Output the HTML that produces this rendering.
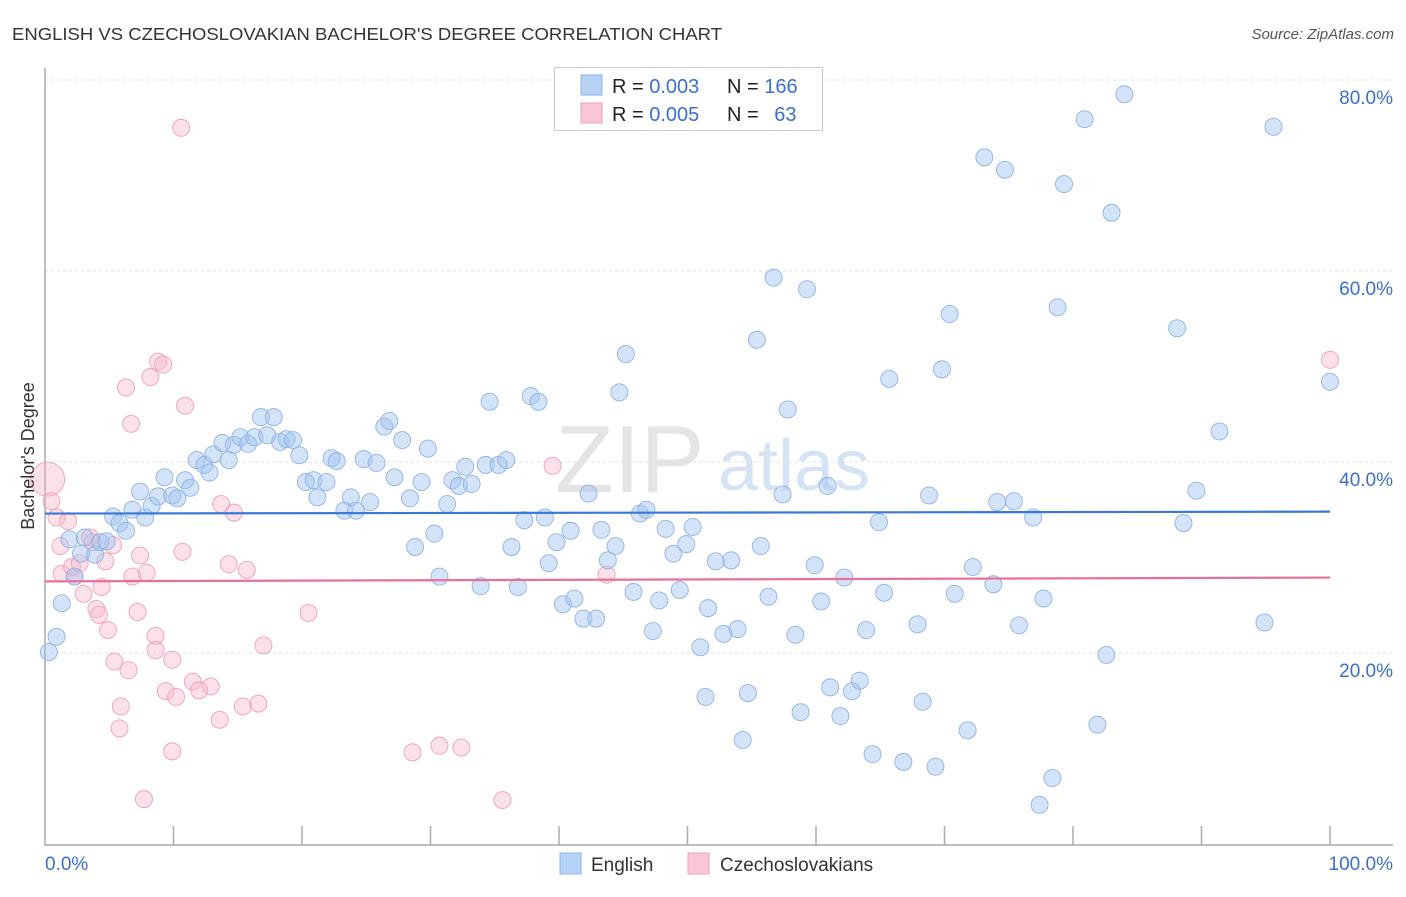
<!DOCTYPE html>
<html><head><meta charset="utf-8"><style>
body{margin:0;background:#fff;font-family:"Liberation Sans",sans-serif;}
svg text{font-family:"Liberation Sans",sans-serif;}
</style></head><body>
<svg id="chart" width="1406" height="892">
<text x="12" y="40" font-size="17.5" fill="#333" textLength="710" lengthAdjust="spacingAndGlyphs">ENGLISH VS CZECHOSLOVAKIAN BACHELOR'S DEGREE CORRELATION CHART</text>
<text x="1394" y="39" font-size="15" fill="#555" font-style="italic" text-anchor="end">Source: ZipAtlas.com</text>
<text x="555" y="492" font-size="96" fill="#e4e4e4" font-family="Liberation Serif">ZIP</text>
<text x="718" y="490" font-size="72" fill="#d6e3f5">atlas</text>
<g id="grid"></g>
<g id="axes"></g>
<g id="pts"></g>
<g id="trend"></g>
<text x="34" y="456" font-size="18" fill="#333" text-anchor="middle" transform="rotate(-90 34 456)">Bachelor's Degree</text>
<g>
<rect x="554.5" y="67.5" width="268" height="63" fill="#fff" stroke="#ccc"/>
<rect x="581" y="75" width="21" height="20" fill="#b7d2f5" stroke="#8fb3e6"/>
<text x="612" y="93" font-size="20" fill="#222">R = <tspan fill="#3a6fd0">0.003</tspan></text>
<text x="727" y="93" font-size="20" fill="#222">N = <tspan fill="#3a6fd0">166</tspan></text>
<rect x="581" y="103" width="21" height="20" fill="#f9c6d5" stroke="#f0a0b8"/>
<text x="612" y="121" font-size="20" fill="#222">R = <tspan fill="#3a6fd0">0.005</tspan></text>
<text x="727" y="121" font-size="20" fill="#222">N = <tspan fill="#3a6fd0" dx="10">63</tspan></text>
</g>
<g>
<rect x="560" y="853" width="21" height="21" fill="#b7d2f5" stroke="#8fb3e6"/>
<text x="591" y="871" font-size="19" fill="#333">English</text>
<rect x="688" y="853" width="21" height="21" fill="#f9c6d5" stroke="#f0a0b8"/>
<text x="720" y="871" font-size="19" fill="#333">Czechoslovakians</text>
</g>
</svg>
<script>
const yTicks=[20,40,60,80];
const yTickLabels=["20.0%","40.0%","60.0%","80.0%"];
const xTicks=[0,10,20,30,40,50,60,70,80,90,100];
const xEndLabels=["0.0%","100.0%"];
const englishX=[0.3,0.9,1.3,2.3,1.9,2.8,3.1,3.9,4.3,4.8,5.3,5.8,6.3,6.8,7.4,7.8,8.3,8.8,9.3,9.9,10.3,10.9,11.3,11.8,12.4,12.8,13.1,13.8,14.3,14.7,15.2,15.8,16.3,16.8,17.3,17.8,18.3,18.8,19.3,19.8,20.3,20.9,21.2,21.9,22.3,22.7,23.3,23.8,24.2,24.8,25.3,25.8,26.4,26.8,27.2,27.8,28.4,28.8,29.3,29.8,30.3,30.7,31.3,31.7,32.2,32.7,33.2,33.9,34.3,34.6,35.3,35.9,36.3,36.8,37.3,37.8,38.4,38.9,39.2,39.8,40.3,40.9,41.2,41.9,42.3,42.9,43.3,43.8,44.4,44.7,45.2,45.8,46.3,46.8,47.3,47.8,48.3,48.9,49.4,49.9,50.4,51.0,51.4,51.6,52.2,52.8,53.4,53.9,54.3,54.7,55.4,55.7,56.3,56.7,57.4,57.8,58.4,58.8,59.3,59.9,60.4,60.9,61.1,61.9,62.2,62.8,63.4,63.9,64.4,64.9,65.3,65.7,66.8,67.9,68.3,68.8,69.3,69.8,70.4,70.8,71.8,72.2,73.1,73.8,74.1,74.7,75.4,75.8,76.9,77.4,77.7,78.4,78.8,79.3,80.9,81.9,82.6,83.0,84.0,88.1,88.6,89.6,91.4,94.9,95.6,100];
const englishY=[20.1,21.7,25.2,28.0,31.9,30.4,32.1,30.3,31.6,31.7,34.3,33.6,32.8,35.0,36.9,34.2,35.4,36.4,38.4,36.5,36.2,38.1,37.3,40.2,39.7,38.9,40.8,42.0,40.2,41.8,42.6,41.9,42.6,44.7,42.8,44.7,42.1,42.4,42.3,40.7,37.9,38.1,36.3,37.9,40.4,40.1,34.9,36.3,34.9,40.3,35.8,39.9,43.7,44.3,38.4,42.3,36.2,31.1,37.9,41.4,32.5,28.0,35.6,38.1,37.5,39.5,37.7,27.0,39.7,46.3,39.7,40.2,31.1,26.9,33.9,46.9,46.3,34.2,29.4,31.6,25.1,32.8,25.7,23.6,36.7,23.6,32.9,29.7,31.2,47.3,51.3,26.4,34.6,35.0,22.3,25.5,33.0,30.4,26.6,31.4,33.2,20.6,15.4,24.7,29.6,22.0,29.7,22.5,10.9,15.8,52.8,31.2,25.9,59.3,36.6,45.5,21.9,13.8,58.1,29.2,25.4,37.5,16.4,13.4,27.9,16.0,17.1,22.4,9.4,33.7,26.3,48.7,8.6,23.0,14.9,36.5,8.1,49.7,55.5,26.2,11.9,29.0,71.9,27.2,35.8,70.6,35.9,22.9,34.2,4.1,25.7,6.9,56.2,69.1,75.9,12.5,19.8,66.1,78.5,54.0,33.6,37.0,43.2,23.2,75.1,48.4];
const czechX=[0.2,0.5,0.9,1.2,1.3,1.8,2.1,2.3,2.7,3.0,3.5,3.7,4.0,4.2,4.4,4.7,4.9,5.3,5.4,5.8,5.9,6.3,6.5,6.7,6.8,7.2,7.4,7.7,7.9,8.2,8.6,8.6,8.8,9.2,9.4,9.9,9.9,10.2,10.6,10.7,10.9,11.5,12.0,12.9,13.6,13.7,14.3,14.7,15.4,15.7,16.6,17.0,20.5,28.6,30.7,32.4,35.6,39.5,43.7,100];
const czechY=[38.2,35.9,34.2,31.2,28.3,33.8,29.0,28.0,29.4,26.2,32.1,31.6,24.6,24.0,26.9,29.6,22.4,31.3,19.1,12.1,14.4,47.8,18.2,44.0,28.0,24.3,30.2,4.7,28.4,48.9,21.8,20.3,50.5,50.2,16.0,9.7,19.3,15.4,75.0,30.6,45.9,17.0,16.1,16.5,13.0,35.6,29.3,34.7,14.4,28.7,14.7,20.8,24.2,9.6,10.3,10.1,4.6,39.6,28.2,50.7];
const englishTrend=[34.6,34.8];
const czechTrend=[27.5,27.9];

const NS="http://www.w3.org/2000/svg";
const X0=45,X1=1330,Y0=844,PX=(X1-X0)/100,PY=(844-80)/80;
const xs=v=>X0+v*PX, ys=v=>Y0-v*PY;
function mk(tag,attrs,parent){const e=document.createElementNS(NS,tag);for(const k in attrs)e.setAttribute(k,attrs[k]);parent.appendChild(e);return e;}
const grid=document.getElementById('grid'),axes=document.getElementById('axes'),pts=document.getElementById('pts'),trend=document.getElementById('trend');
yTicks.forEach((t,i)=>{
  const l=mk('line',{x1:X0,x2:1393,y1:ys(t),y2:ys(t),stroke:'#e2e2e2','stroke-width':1,'stroke-dasharray':'3,3'},grid);
  
  
  const tx=mk('text',{x:1393,y:ys(t)+24,'font-size':19,fill:'#3a6fd0','text-anchor':'end'},grid);
  tx.textContent=yTickLabels[i];
  
  
});
const ax=mk('path',{d:`M${X0},68V${Y0+1}H1393`,stroke:'#aaa','stroke-width':1.5,fill:'none'},axes);


xTicks.forEach(t=>{if(t===0)return;
  const l=mk('line',{x1:xs(t),x2:xs(t),y1:826,y2:Y0+1,stroke:'#aaa','stroke-width':1.5},axes);
  
  
});
const xl0=mk('text',{x:45,y:870,'font-size':19,fill:'#3a6fd0'},axes);xl0.textContent=xEndLabels[0];


const xl1=mk('text',{x:1393,y:870,'font-size':19,fill:'#3a6fd0','text-anchor':'end'},axes);xl1.textContent=xEndLabels[1];


czechX.forEach((v,i)=>{
  const c=mk('circle',{cx:xs(v),cy:ys(czechY[i]),r:i===0?17:8.5,fill:'rgba(248,180,200,0.4)',stroke:'#f0a0b8','stroke-width':0.9},pts);
  
  
});
englishX.forEach((v,i)=>{
  const c=mk('circle',{cx:xs(v),cy:ys(englishY[i]),r:8.5,fill:'rgba(160,196,240,0.45)',stroke:'#8fb3e6','stroke-width':0.9},pts);
  
  
});
const t1=mk('line',{x1:xs(0),x2:xs(100),y1:ys(englishTrend[0]),y2:ys(englishTrend[1]),stroke:'#3a78d8','stroke-width':2.2},trend);


const t2=mk('line',{x1:xs(0),x2:xs(100),y1:ys(czechTrend[0]),y2:ys(czechTrend[1]),stroke:'#e8709a','stroke-width':2.2},trend);


</script>
</body></html>
